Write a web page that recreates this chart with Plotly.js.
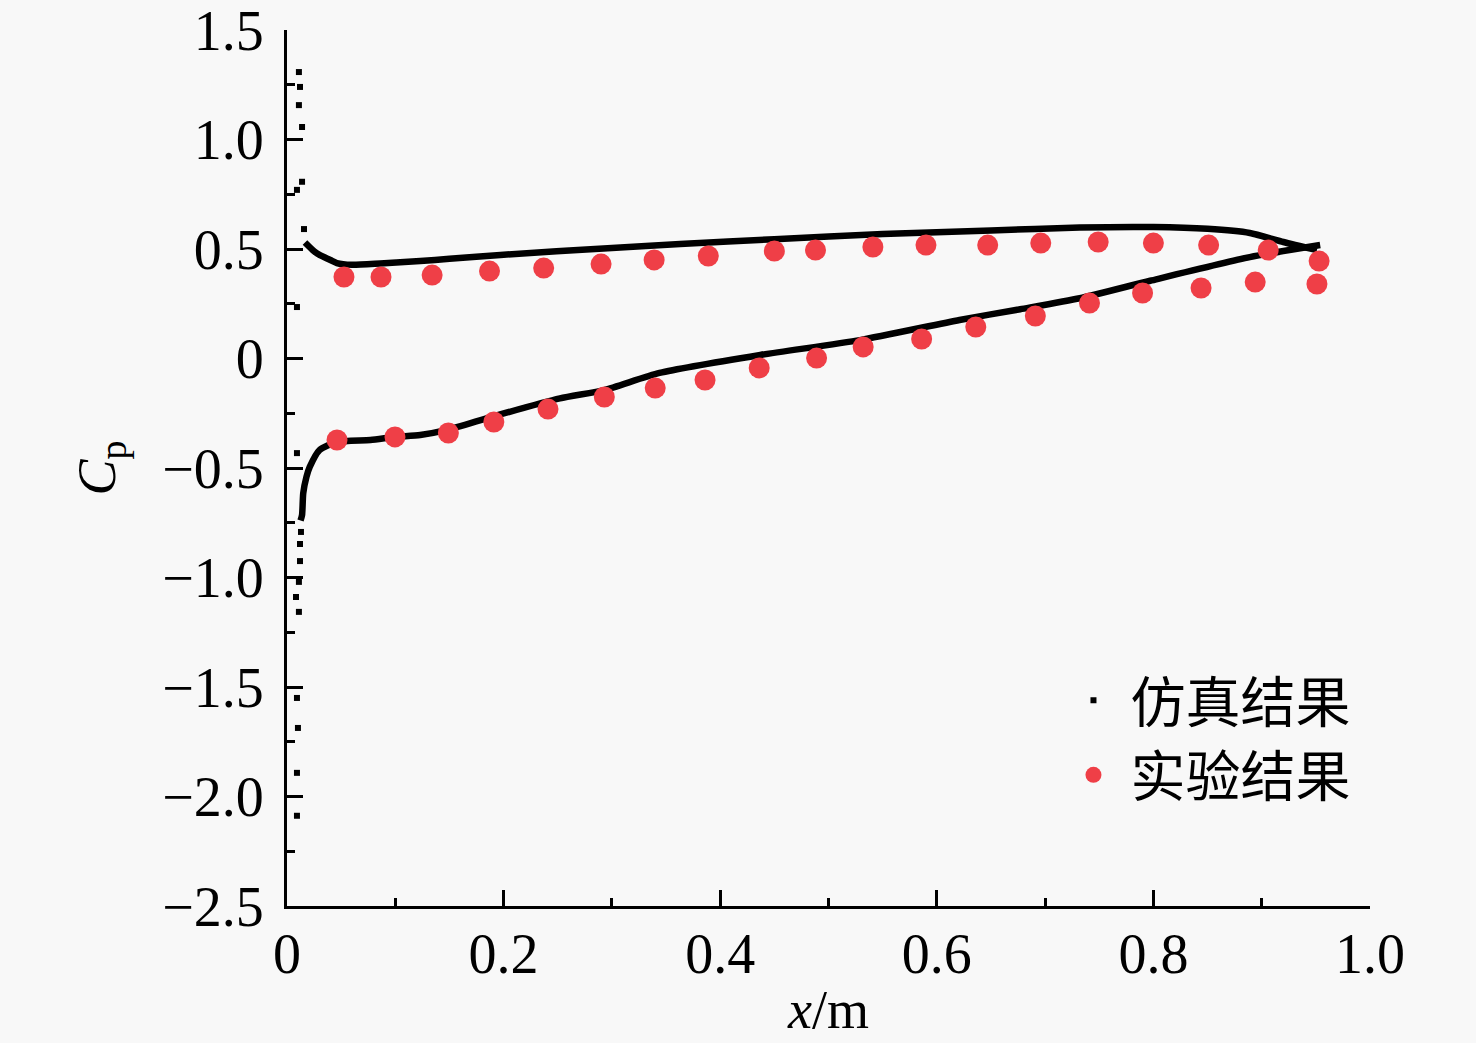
<!DOCTYPE html>
<html>
<head>
<meta charset="utf-8">
<script src="https://cdn.plot.ly/plotly-3.0.1.min.js"></script>
<style>html,body{margin:0;padding:0;background:#f8f8f8;}</style>
</head>
<body>
<div id="chart" style="width:1476px;height:1043px;"></div>
<script>
// Simulation (仿真结果) – upper branch of the Cp curve
const simUpperX  = [0.0166, 0.025, 0.030, 0.040, 0.046, 0.060, 0.086, 0.123, 0.150, 0.197, 0.300, 0.363, 0.450, 0.550, 0.650, 0.732, 0.800, 0.850, 0.889, 0.920, 0.951];
const simUpperCp = [0.53,   0.49,  0.473, 0.45,  0.436, 0.428, 0.434, 0.445, 0.455, 0.473, 0.505, 0.523, 0.545, 0.568, 0.585, 0.598, 0.600, 0.592, 0.573, 0.532, 0.495];
// Simulation – lower branch
const simLowerX  = [0.0125, 0.0139, 0.015,  0.018,  0.021,  0.030,  0.046,  0.077,  0.100,  0.123,  0.148,  0.190,  0.252,  0.293,  0.344,  0.437, 0.529, 0.621, 0.677, 0.732, 0.797, 0.889, 0.954];
const simLowerCp = [-0.74,  -0.715, -0.615, -0.54,  -0.495, -0.418, -0.381, -0.372, -0.358, -0.349, -0.326, -0.265, -0.182, -0.144, -0.066, 0.016, 0.084, 0.176, 0.225, 0.275, 0.355, 0.463, 0.518];
// Simulation – isolated points near the leading edge
const simLeX  = [0.011, 0.012, 0.011, 0.0139, 0.0139, 0.0092, 0.0157, 0.0092, 0.0092, 0.0129, 0.012, 0.012, 0.011, 0.0083, 0.011, 0.0092, 0.0101, 0.0092, 0.0092];
const simLeCp = [1.308, 1.240, 1.157, 1.057, 0.807, 0.770, 0.591, 0.235, -0.432, -0.792, -0.847, -0.925, -1.02, -1.089, -1.157, -1.55, -1.687, -1.892, -2.088];

// Experiment (实验结果)
const expUpperX  = [0.0526, 0.0868, 0.134, 0.187, 0.237, 0.290, 0.339, 0.389, 0.450, 0.488, 0.541, 0.590, 0.647, 0.696, 0.749, 0.800, 0.851, 0.906, 0.953];
const expUpperCp = [0.372,  0.372,  0.381, 0.399, 0.413, 0.431, 0.450, 0.468, 0.491, 0.495, 0.509, 0.518, 0.518, 0.527, 0.532, 0.527, 0.518, 0.495, 0.445];
const expLowerX  = [0.0462, 0.0997, 0.149, 0.191, 0.241, 0.293, 0.340, 0.386, 0.436, 0.489, 0.532, 0.586, 0.636, 0.691, 0.741, 0.790, 0.844, 0.894, 0.951];
const expLowerCp = [-0.372, -0.358, -0.340, -0.290, -0.231, -0.176, -0.135, -0.098, -0.043, 0.002, 0.053, 0.089, 0.144, 0.194, 0.253, 0.299, 0.322, 0.349, 0.340];

const xTickVals = [0, 0.2, 0.4, 0.6, 0.8, 1.0];
const xTickText = ['0', '0.2', '0.4', '0.6', '0.8', '1.0'];
const yTickVals = [1.5, 1.0, 0.5, 0, -0.5, -1.0, -1.5, -2.0, -2.5];
const yTickText = ['1.5', '1.0', '0.5', '0', '\u22120.5', '\u22121.0', '\u22121.5', '\u22122.0', '\u22122.5'];

const serif = 'Liberation Serif, Times New Roman, serif';
const cjk = 'Noto Sans CJK SC, sans-serif';

const traces = [
  {x: simUpperX, y: simUpperCp, mode: 'lines', line: {color: '#000', width: 6.5, shape: 'spline', smoothing: 0.6}, showlegend: false, hoverinfo: 'skip'},
  {x: simLowerX, y: simLowerCp, mode: 'lines', line: {color: '#000', width: 6.5, shape: 'spline', smoothing: 0.6}, showlegend: false, hoverinfo: 'skip'},
  {x: simLeX, y: simLeCp, mode: 'markers', name: '仿真结果',
   marker: {symbol: 'square', size: 6, color: '#000'}},
  {x: expUpperX.concat(expLowerX), y: expUpperCp.concat(expLowerCp), mode: 'markers', name: '实验结果',
   marker: {symbol: 'circle', size: 21, color: '#EF3F47', line: {width: 0}}}
];

const axisCommon = {
  showgrid: false, zeroline: false, showline: true, linecolor: '#000', linewidth: 3,
  ticks: 'inside', ticklen: 16, tickwidth: 3, tickcolor: '#000',
  ticklabeloverflow: 'allow',
  tickfont: {family: serif, size: 56, color: '#000'}
};

const layout = {
  width: 1476, height: 1043,
  margin: {l: 287, r: 106, t: 30, b: 137},
  paper_bgcolor: '#f8f8f8', plot_bgcolor: '#f8f8f8',
  xaxis: Object.assign({}, axisCommon, {
    range: [0, 1.0], tickvals: xTickVals, ticktext: xTickText,
    minor: {ticks: 'inside', ticklen: 8, tickwidth: 3, tickcolor: '#000', dtick: 0.1, tick0: 0},
    ticklabelstandoff: -3,
    title: {text: '<i>x</i>/m', font: {family: serif, size: 54, color: '#000'}, standoff: 6}
  }),
  yaxis: Object.assign({}, axisCommon, {
    range: [-2.5, 1.5], tickvals: yTickVals, ticktext: yTickText,
    minor: {ticks: 'inside', ticklen: 8, tickwidth: 3, tickcolor: '#000', dtick: 0.25, tick0: 0},
    ticklabelstandoff: 9,
    title: {text: '<i>C</i><sub>p</sub>', font: {family: serif, size: 54, color: '#000'}, standoff: 30}
  }),
  legend: {
    x: 0.7105, y: 0.283, xanchor: 'left', yanchor: 'top',
    bgcolor: 'rgba(0,0,0,0)', font: {family: cjk, size: 55, color: '#000'},
    itemwidth: 64, tracegroupgap: 0
  },
  showlegend: true
};

Plotly.newPlot('chart', traces, layout, {staticPlot: true, displayModeBar: false});
</script>
</body>
</html>
